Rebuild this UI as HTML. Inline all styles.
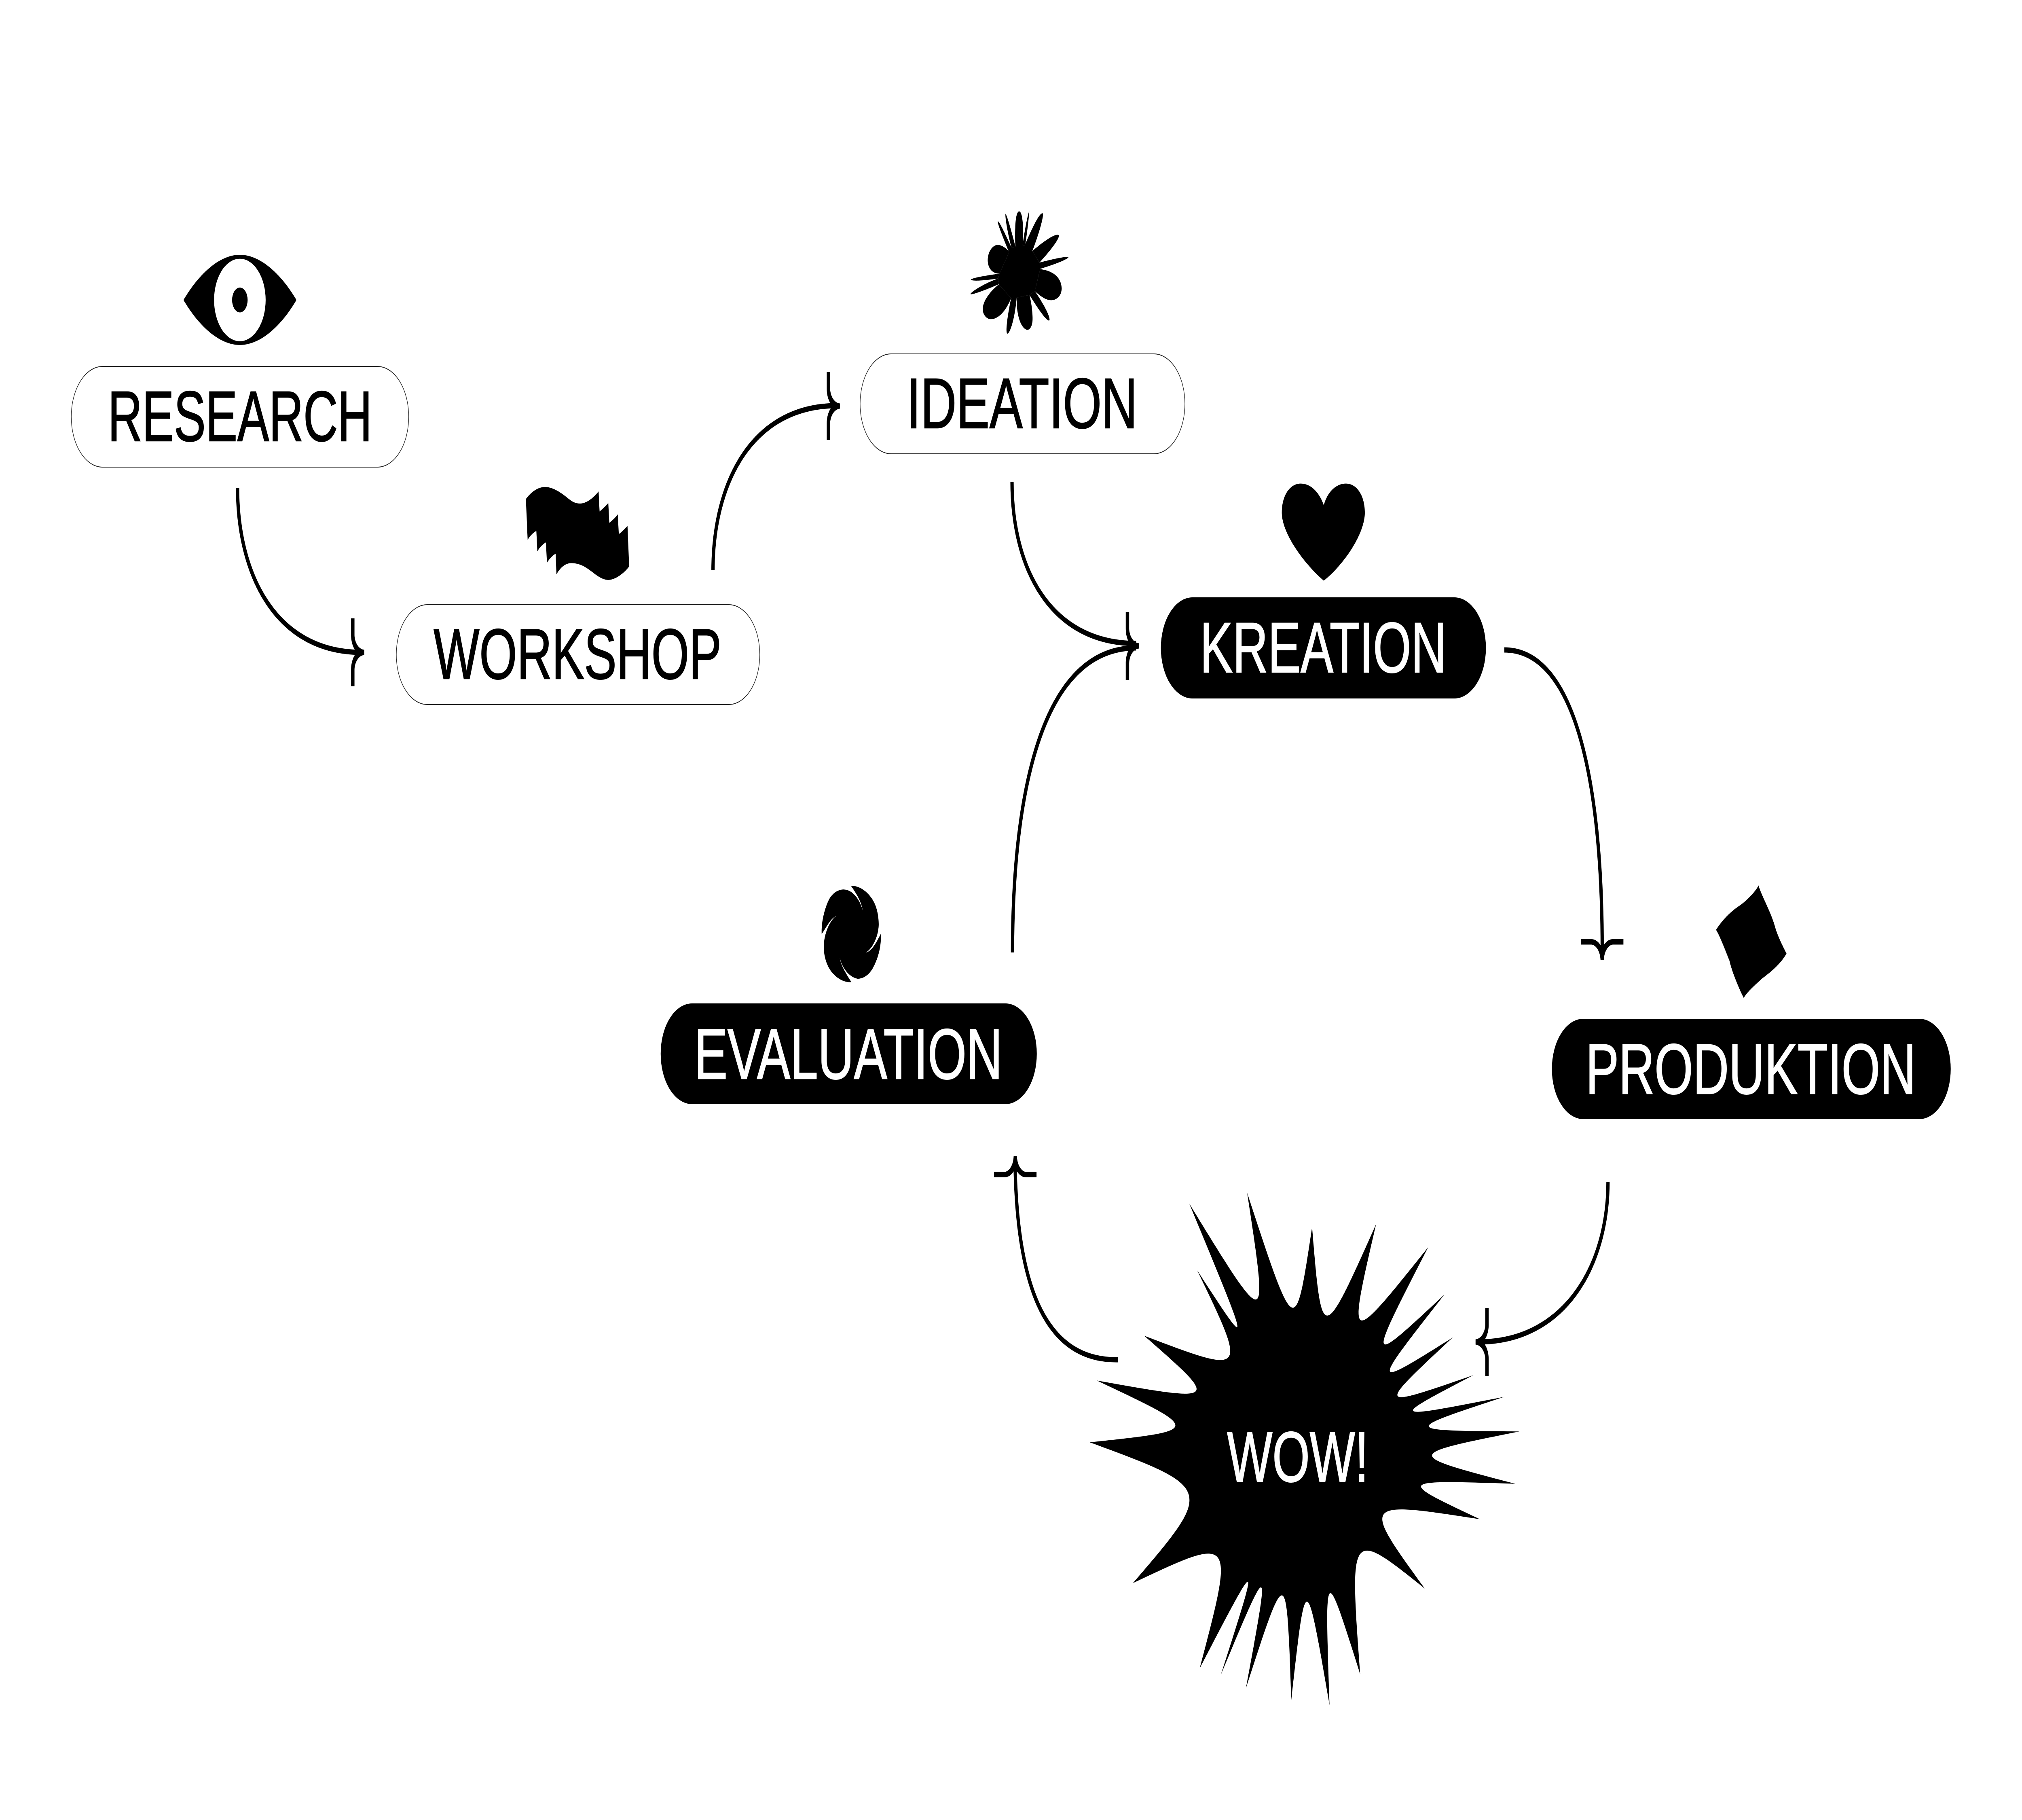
<!DOCTYPE html>
<html><head><meta charset="utf-8"><style>
html,body{margin:0;padding:0;background:#fff}
svg{display:block;width:100vw;height:4500px}
text{font-family:"Liberation Sans",sans-serif;font-size:176px;stroke-width:2.5px}
</style></head><body>
<svg xmlns="http://www.w3.org/2000/svg" viewBox="0 0 8000 4500" preserveAspectRatio="none">
<rect width="8000" height="4500" fill="#fff"/>

<!-- pills -->
<g fill="#fff" stroke="#222" stroke-width="2">
<rect x="282" y="906" width="1335" height="249" rx="124"/>
<rect x="1568" y="1495" width="1438" height="247" rx="123"/>
<rect x="3403" y="875" width="1285" height="247" rx="123"/>
</g>
<g fill="#000">
<rect x="4593" y="1477" width="1286" height="250" rx="125"/>
<rect x="2614" y="2481" width="1488" height="249" rx="124"/>
<rect x="6140" y="2519" width="1578" height="248" rx="124"/>
</g>

<!-- labels -->
<text x="427" y="1090" textLength="1045" lengthAdjust="spacingAndGlyphs" fill="#000" stroke="#000">RESEARCH</text>
<text x="1716" y="1678" textLength="1138" lengthAdjust="spacingAndGlyphs" fill="#000" stroke="#000">WORKSHOP</text>
<text x="3588" y="1058" textLength="912" lengthAdjust="spacingAndGlyphs" fill="#000" stroke="#000">IDEATION</text>
<text x="4748" y="1662" textLength="975" lengthAdjust="spacingAndGlyphs" fill="#fff" stroke="#fff">KREATION</text>
<text x="2747" y="2667" textLength="1219" lengthAdjust="spacingAndGlyphs" fill="#fff" stroke="#fff">EVALUATION</text>
<text x="6274" y="2704" textLength="1306" lengthAdjust="spacingAndGlyphs" fill="#fff" stroke="#fff">PRODUKTION</text>

<!-- eye -->
<path d="M726,741.7 C777,687 860,630 949,630 C1038,630 1122,687 1172.7,741.7 C1122,797 1038,853 949,853 C860,853 777,797 726,741.7Z" fill="#000"/>
<circle cx="949" cy="741.7" r="102" fill="#fff"/>
<circle cx="949" cy="741.7" r="30.7" fill="#000"/>

<!-- wave -->
<g transform="translate(2060,1190) scale(0.3333)">
<path fill="#000" d="M62,132 C120,80 210,40 295,42 C400,45 500,95 580,135 C620,155 660,165 705,165 C780,165 860,125 925,75 L937,224 C970,205 1010,185 1040,160 L1052,308 C1085,292 1125,270 1153,245 L1165,392 C1200,375 1240,352 1268,330 L1288,632 C1230,680 1130,730 1040,732 C950,730 880,685 800,650 C730,620 670,607 600,607 C530,607 470,640 425,690 L415,537 C380,550 340,575 312,605 L300,453 C265,465 225,490 198,520 L186,368 C150,380 110,405 83,435Z"/>
</g>

<!-- flower -->
<g transform="translate(3700,450) scale(0.3827,0.3333)" fill="#000">
<path d="M765,520 L790,490 L830,480 L905,470 L930,470 L1005,512 L1078,598 L1085,647 L1030,810 L975,838 L842,858 L785,862 L658,760 L652,716 L665,680Z"/>
<path d="M648,290 C670,300 740,410 795,495 L765,525 C720,440 640,310 648,290Z"/>
<path d="M727,235 C745,250 790,370 830,480 L790,490 C755,400 720,260 727,235Z"/>
<path d="M868,218 C895,218 908,290 908,350 C908,400 905,440 905,475 L830,480 C825,430 825,380 828,340 C830,270 845,218 868,218Z"/>
<path d="M973,212 C970,260 950,380 930,470 L905,470 C915,400 950,260 973,212Z"/>
<path d="M1112,232 C1125,250 1080,370 1005,512 L925,470 C970,400 1070,225 1112,232Z"/>
<path d="M1275,393 C1300,410 1190,510 1078,598 L1005,512 C1080,465 1230,380 1275,393Z"/>
<path d="M1380,556 C1370,575 1220,615 1080,645 L1078,598 C1170,580 1350,550 1380,556Z"/>
<path d="M1085,647 C1200,655 1305,700 1308,790 C1305,850 1250,880 1190,877 C1130,872 1080,840 1030,810Z"/>
<path d="M1030,810 C1090,870 1190,990 1182,1025 C1165,1045 1070,950 975,838Z"/>
<path d="M975,838 C1000,910 1012,1000 1005,1040 C995,1085 970,1097 950,1097 C885,1085 840,990 842,858Z"/>
<path d="M842,858 C830,980 780,1125 745,1125 C725,1115 745,1000 785,862Z"/>
<path d="M785,862 C730,960 650,1018 575,1018 C520,1015 490,975 492,940 C495,880 570,810 658,760Z"/>
<path d="M658,758 C560,790 380,840 365,832 C360,820 510,750 652,716Z"/>
<path d="M652,716 C520,730 385,738 368,725 C380,710 560,690 665,680Z"/>
<path d="M665,680 C590,680 545,640 543,580 C545,510 600,467 645,467 C690,467 735,490 765,520Z"/>
</g>

<!-- heart -->
<g transform="translate(3200,450) scale(1.7857,0.8929)" fill="#000">
<path d="M1141,895 C1130,855 1110,835 1090,835 C1065,835 1048,870 1048,915 C1048,975 1100,1060 1141,1104 C1185,1060 1232,975 1232,915 C1232,870 1215,835 1190,835 C1170,835 1150,855 1141,895Z"/>
</g>

<!-- swirl -->
<g transform="translate(3150,2130) scale(0.3333)">
<path fill="#000" d="M652,182 C760,175 880,240 930,310 C975,370 985,450 978,490 C965,570 900,650 828,675 C900,668 960,590 1005,537 C1012,620 980,700 935,760 C880,840 800,870 730,870 C640,860 550,800 518,715 C530,770 590,830 655,895 C560,900 470,860 415,815 C340,750 325,670 328,620 C335,530 400,435 480,402 C410,420 355,490 303,540 C295,450 340,350 380,295 C430,225 520,205 570,208 C660,210 750,270 790,363 C770,290 710,235 652,182Z"/>
</g>

<!-- diamond -->
<g transform="translate(6100,2100) scale(1.0842,0.5102)">
<path fill="#000" d="M791,175 C800,220 835,300 850,370 C860,420 880,470 893,505 C870,560 830,600 805,625 C780,655 750,690 737,720 C725,690 695,600 685,540 C670,490 650,420 636,390 C660,340 690,300 725,270 C750,245 780,205 791,175Z"/>
</g>

<!-- starburst -->
<g transform="translate(4200,2900) scale(1.2117,0.8929)">
<path fill="#000" d="M606,55 C763,462 763,462 818,150 C850,478 850,478 1027,142 C933,486 933,486 1197,206 C995,539 995,539 1250,337 C1008,599 1008,599 1277,456 C1026,654 1026,654 1345,560 C1067,683 1067,683 1446,620 C1109,714 1109,714 1495,716 C1117,780 1117,780 1482,861 C1093,850 1093,850 1366,959 C978,908 978,908 1186,1151 C940,984 940,984 975,1388 C859,1076 859,1076 875,1474 C798,1094 798,1094 750,1460 C735,1079 735,1079 602,1427 C682,1061 682,1061 520,1390 C649,1049 649,1049 451,1372 C566,1002 566,1002 233,1136 C499,873 499,873 92,746 C461,713 461,713 115,575 C519,636 519,636 270,451 C608,560 608,560 443,270 C622,504 622,504 417,85 C676,444 676,444 606,55Z"/>
</g>
<text x="4855" y="3663" textLength="559" lengthAdjust="spacingAndGlyphs" fill="#fff" stroke="#fff">WOW!</text>

<!-- connectors -->
<g fill="none" stroke="#000" stroke-width="13">
<path d="M940,1207 C940,1420 1090,1613 1430,1613"/>
<path d="M2821,1410 C2821,1197 2971,1003 3312,1003"/>
<path d="M4004,1191 C4004,1404 4154,1591 4495,1591"/>
<path d="M4006,2355 C4006,1980 4110,1602 4495,1602"/>
<path d="M5952,1607 C6240,1607 6342,1950 6339,2363"/>
<path d="M6362,2922 C6362,3130 6190,3318 5849,3318"/>
<path d="M4423,3362 C4150,3365 4022,3200 4016,2870"/>
</g>

<!-- arrowheads -->
<g fill="#000">
<path transform="translate(1441,1613)" d="M-52,-84 H-38.5 V-43 C-38.5,-28 -25,-8 0,-6.5 V6.5 C-25,8 -38.5,28 -38.5,43 V84 H-52 V43 C-52,22 -40,6 -28,0 C-40,-6 -52,-22 -52,-43Z"/>
<path transform="translate(3323,1004)" d="M-52,-84 H-38.5 V-43 C-38.5,-28 -25,-8 0,-6.5 V6.5 C-25,8 -38.5,28 -38.5,43 V84 H-52 V43 C-52,22 -40,6 -28,0 C-40,-6 -52,-22 -52,-43Z"/>
<path transform="translate(4506,1597)" d="M-52,-84 H-38.5 V-43 C-38.5,-28 -25,-8 0,-6.5 V6.5 C-25,8 -38.5,28 -38.5,43 V84 H-52 V43 C-52,22 -40,6 -28,0 C-40,-6 -52,-22 -52,-43Z"/>
<path transform="translate(6339,2374) rotate(90)" d="M-52,-84 H-38.5 V-43 C-38.5,-28 -25,-8 0,-6.5 V6.5 C-25,8 -38.5,28 -38.5,43 V84 H-52 V43 C-52,22 -40,6 -28,0 C-40,-6 -52,-22 -52,-43Z"/>
<path transform="translate(5838,3318) rotate(180)" d="M-52,-84 H-38.5 V-43 C-38.5,-28 -25,-8 0,-6.5 V6.5 C-25,8 -38.5,28 -38.5,43 V84 H-52 V43 C-52,22 -40,6 -28,0 C-40,-6 -52,-22 -52,-43Z"/>
<path transform="translate(4017,2859) rotate(-90)" d="M-52,-84 H-38.5 V-43 C-38.5,-28 -25,-8 0,-6.5 V6.5 C-25,8 -38.5,28 -38.5,43 V84 H-52 V43 C-52,22 -40,6 -28,0 C-40,-6 -52,-22 -52,-43Z"/>
</g>
</svg>
</body></html>
